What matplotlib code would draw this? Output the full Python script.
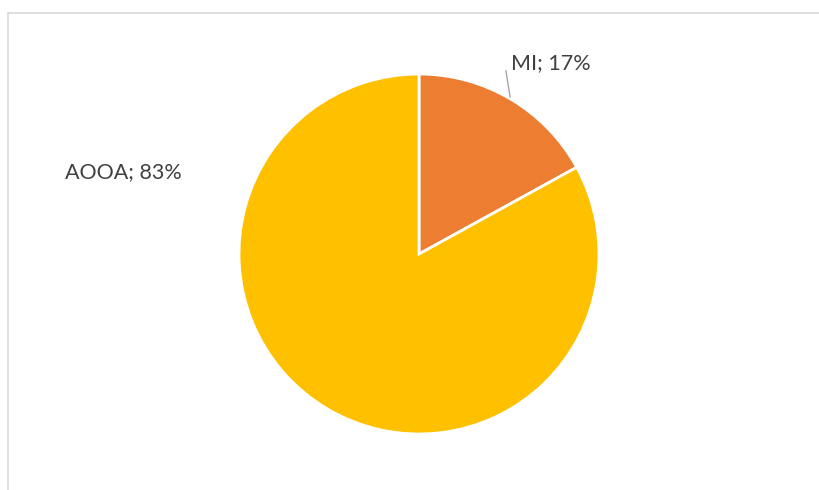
import matplotlib
matplotlib.use("Agg")
from matplotlib import pyplot as plt
from matplotlib.patches import Rectangle

# Données du graphique
categories = ['MI', 'AOOA']
shares = [17, 83]
colors = ['#ED7D31', '#FFC000']

W, H = 819, 490
fig = plt.figure(figsize=(W / 100, H / 100), dpi=100)

# cadre gris clair (coupé à droite et en bas)
fig.patches.append(Rectangle((8 / W, -0.1), 1.2, (H - 13.5) / H + 0.1,
                             transform=fig.transFigure, fill=False,
                             edgecolor='#D9D9D9', linewidth=1.2))

cx, cy, r = 419, 254, 180
ax = fig.add_axes([(cx - r) / W, (H - cy - r) / H, 2 * r / W, 2 * r / H])
ax.pie(shares, colors=colors, startangle=90, counterclock=False, radius=1,
       wedgeprops=dict(edgecolor='white', linewidth=2))
ax.set_xlim(-1, 1)
ax.set_ylim(-1, 1)
ax.set_aspect('equal')
ax.axis('off')

label_font = dict(fontsize=15.5, color='#404040', family=['Lato', 'DejaVu Sans'],
                  va='center', ha='left', clip_on=False)
labels = ['%s; %d%%' % (c, s) for c, s in zip(categories, shares)]
ax.text(0.51, 1.06, labels[0], **label_font)
ax.text(-1.967, 0.456, labels[1], **label_font)

# ligne de rappel pour MI
ax.plot([0.483, 0.506], [1.017, 0.872], color='#A6A6A6', linewidth=1, clip_on=False)

fig.savefig('out.png', dpi=100)
